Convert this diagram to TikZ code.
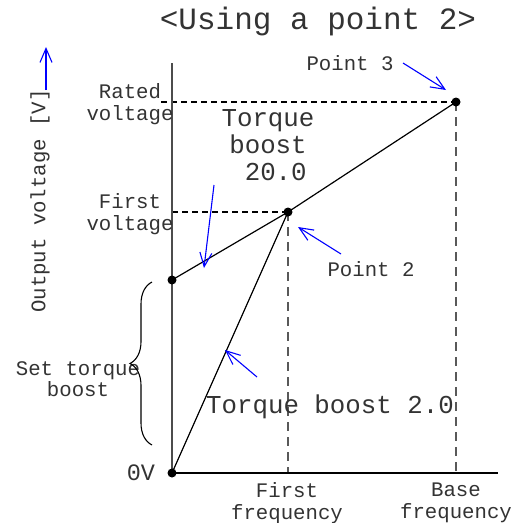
\documentclass[tikz,border=0pt]{standalone}
\usepackage{fontspec}
\setmainfont{Liberation Mono}
\usetikzlibrary{arrows.meta,decorations.pathreplacing}
\begin{document}
\begin{tikzpicture}[x=1pt,y=-1pt,
  lbl/.style={font=\fontsize{20.7}{21.5}\selectfont, align=center, inner sep=0pt, text=black!80},
  big/.style={font=\fontsize{25.8}{27}\selectfont, align=center, inner sep=0pt, text=black!80},
  ttl/.style={font=\fontsize{31}{33}\selectfont, inner sep=0pt, text=black!80},
  axis/.style={line width=1.8pt},
  curve/.style={line width=1.2pt},
  hdash/.style={line width=1.3pt, dash pattern=on 6pt off 4pt},
  vdash/.style={line width=1.5pt, black!65, dash pattern=on 9pt off 6pt},
  pointer/.style={blue, line width=1.1pt, -{Straight Barb[length=14pt,width=12pt,line width=1.1pt]}},
  dot/.style={circle, fill=black, inner sep=0pt, minimum size=9pt}]
\useasboundingbox (0,0) rectangle (520,523);

% key points
\coordinate (O) at (172,473);
\coordinate (A) at (172,280);
\coordinate (P2) at (288,212);
\coordinate (P3) at (456,102);
\coordinate (ytop) at (172,63);
\coordinate (xend) at (498,473);
\coordinate (f1) at (288,473);
\coordinate (fb) at (456,473);
\coordinate (rv) at (161,102);
\coordinate (fv) at (172,212);

% dashed guides
\draw[hdash] (rv) -- (P3);
\draw[hdash] (fv) -- (P2);
\draw[vdash] (P2) -- (f1);
\draw[vdash] (P3) -- (fb);

% axes
\draw[axis, black!70] (ytop) -- (O);
\draw[axis] (O) -- (xend);

% curves
\draw[curve] (A) -- (P2) -- (P3);
\draw[curve] (O) -- (P2);

% dots
\node[dot] (dO) at (O) {};
\node[dot] (dA) at (A) {};
\node[dot] (dP2) at (P2) {};
\node[dot] (dP3) at (P3) {};

% title
\node[ttl] (title) at (318,21) {<Using a point 2>};

% labels
\node[lbl] (rated) at (130,104) {Rated\\voltage};
\node[lbl] (first) at (130,214) {First\\voltage};
\node[lbl, rotate=90] (ylab) at (40,201) {Output voltage [V]};
\node[lbl] (settb) at (78,379) {Set torque\\boost};
\node[lbl, font=\fontsize{23.5}{24}\selectfont] (zero) at (141,473) {0V};
\node[lbl] (ff) at (287,503) {First\\frequency};
\node[lbl] (bf) at (456,503) {Base\\frequency};
\node[lbl] (pt3) at (350,63) {Point 3};
\node[lbl] (pt2) at (371,269) {Point 2};
\node[big] (tb20) at (268,145) {Torque\\boost\\\ 20.0};
\node[big] (tb2) at (330,407) {Torque boost 2.0};

% brace
\draw[line width=1.1pt, decorate, decoration={brace, amplitude=22pt}] (152,445) -- (152,282);

% blue pointers
\coordinate (yarrS) at (46,90);
\coordinate (yarrE) at (46,47);
\draw[pointer] (yarrS) -- (yarrE);
\coordinate (p3S) at (403,63);
\coordinate (p3E) at (446,90);
\draw[pointer] (p3S) -- (p3E);
\coordinate (p2S) at (341,254);
\coordinate (p2E) at (298,227);
\draw[pointer] (p2S) -- (p2E);
\coordinate (fvS) at (214,185);
\coordinate (fvE) at (204,268);
\draw[pointer] (fvS) -- (fvE);
\coordinate (tbS) at (257,377);
\coordinate (tbE) at (225,350);
\draw[pointer] (tbS) -- (tbE);
\end{tikzpicture}
\end{document}
